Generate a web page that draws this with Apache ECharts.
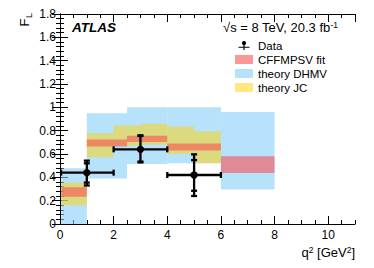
<!DOCTYPE html>
<html>
<head>
<meta charset="utf-8">
<script src="https://cdn.jsdelivr.net/npm/echarts@6/dist/echarts.min.js"></script>
<style>html,body{margin:0;padding:0;background:#fff}#c{width:374px;height:268px}</style>
</head>
<body>
<div id="c"></div>
<script>
// ---- Data ----
// ATLAS data points
const dataX     = [1, 3, 5];
const dataY     = [0.44, 0.64, 0.42];
const dataXLow  = [0.04, 2.0, 4.0];
const dataXHigh = [2.0, 4.0, 6.0];
const statLow   = [0.355, 0.535, 0.285];
const statHigh  = [0.52, 0.755, 0.548];
const totLow    = [0.33, 0.528, 0.24];
const totHigh   = [0.543, 0.76, 0.597];

// theory DHMV bins
const dhmvX0 = [0.05, 1, 2.5, 4, 6];
const dhmvX1 = [1, 2.5, 4, 6, 8];
const dhmvLo = [0.0, 0.39, 0.515, 0.52, 0.295];
const dhmvHi = [0.477, 0.95, 1.0, 1.0, 0.96];

// theory JC bins
const jcX0 = [0.05, 1, 2, 3, 4, 5];
const jcX1 = [1, 2, 3, 4, 5, 6];
const jcLo = [0.16, 0.572, 0.67, 0.68, 0.60, 0.52];
const jcHi = [0.354, 0.777, 0.845, 0.86, 0.835, 0.795];

// CFFMPSV fit bins
const cffX0 = [0.05, 1, 2.5, 4, 6];
const cffX1 = [1, 2.5, 4, 6, 8];
const cffLo = [0.234, 0.665, 0.703, 0.63, 0.437];
const cffHi = [0.314, 0.725, 0.757, 0.69, 0.58];

const FONT = '"Liberation Sans", Arial, Helvetica, sans-serif';
const C_DHMV = 'rgba(135,206,250,0.6)';
const C_JC   = 'rgba(255,210,0,0.5)';
const C_CFF  = 'rgba(250,82,84,0.6)';

function boxSeries(name, x0, x1, lo, hi, color, z) {
  return {
    type: 'custom', name: name, z: z, silent: true,
    itemStyle: { color: color },
    data: x0.map((v, i) => [v, x1[i], lo[i], hi[i]]),
    renderItem: function (params, api) {
      const a = api.coord([api.value(0), api.value(3)]);
      const b = api.coord([api.value(1), api.value(2)]);
      return { type: 'rect', shape: { x: a[0], y: a[1], width: b[0] - a[0], height: b[1] - a[1] },
               style: { fill: color } };
    }
  };
}

const dataSeries = {
  type: 'custom', name: 'Data', z: 10, silent: true,
  itemStyle: { color: '#000' },
  data: dataX.map((v, i) => [v, dataY[i], dataXLow[i], dataXHigh[i], statLow[i], statHigh[i], totLow[i], totHigh[i]]),
  renderItem: function (params, api) {
    const p  = api.coord([api.value(0), api.value(1)]);
    const xl = api.coord([api.value(2), api.value(1)])[0];
    const xh = api.coord([api.value(3), api.value(1)])[0];
    const sl = api.coord([api.value(0), api.value(4)])[1];
    const sh = api.coord([api.value(0), api.value(5)])[1];
    const tl = api.coord([api.value(0), api.value(6)])[1];
    const th = api.coord([api.value(0), api.value(7)])[1];
    const st = { stroke: '#000', lineWidth: 2.3, fill: null };
    const cw = 3;
    const line = (x1, y1, x2, y2) => ({ type: 'line', shape: { x1, y1, x2, y2 }, style: st });
    return { type: 'group', children: [
      line(xl, p[1], xh, p[1]),
      line(xl, p[1] - cw, xl, p[1] + cw),
      line(xh, p[1] - cw, xh, p[1] + cw),
      line(p[0], tl, p[0], th),
      line(p[0] - cw, tl, p[0] + cw, tl),
      line(p[0] - cw, th, p[0] + cw, th),
      line(p[0] - cw, sl, p[0] + cw, sl),
      line(p[0] - cw, sh, p[0] + cw, sh),
      { type: 'circle', shape: { cx: p[0], cy: p[1], r: 3.7 }, style: { fill: '#000' } }
    ]};
  }
};

const axLine = { show: true, lineStyle: { color: '#000', width: 1 } };
const xBase = { type: 'value', min: 0, max: 11, splitLine: { show: false } };
const yBase = { type: 'value', min: 0, max: 1.8, interval: 0.2, splitLine: { show: false } };

const chart = echarts.init(document.getElementById('c'), null, { renderer: 'svg' });
chart.setOption({
  animation: false,
  textStyle: { fontFamily: FONT },
  grid: { left: 60, right: 19, top: 14, bottom: 44 },
  xAxis: [
    Object.assign({}, xBase, { position: 'bottom', interval: 2, axisLine: axLine,
      axisTick: { inside: true, length: 8, lineStyle: { color: '#000' } },
      axisLabel: { showMaxLabel: false, fontSize: 12, color: '#000', margin: 5, fontFamily: FONT } }),
    Object.assign({}, xBase, { position: 'bottom', interval: 0.5, axisLine: { show: false },
      axisTick: { inside: true, length: 4, lineStyle: { color: '#000' } }, axisLabel: { show: false } }),
    Object.assign({}, xBase, { position: 'top', interval: 2, axisLine: axLine,
      axisTick: { inside: true, length: 8, lineStyle: { color: '#000' } }, axisLabel: { show: false } }),
    Object.assign({}, xBase, { position: 'top', interval: 0.5, axisLine: { show: false },
      axisTick: { inside: true, length: 4, lineStyle: { color: '#000' } }, axisLabel: { show: false } })
  ],
  yAxis: [
    Object.assign({}, yBase, { position: 'left', axisLine: axLine,
      axisTick: { inside: true, length: 8, lineStyle: { color: '#000' } },
      minorTick: { show: true, splitNumber: 5, length: 4, lineStyle: { color: '#000' } },
      axisLabel: { fontSize: 12, color: '#000', margin: 4, fontFamily: FONT } }),
    Object.assign({}, yBase, { position: 'right', axisLine: axLine,
      axisTick: { inside: true, length: 8, lineStyle: { color: '#000' } },
      minorTick: { show: true, splitNumber: 5, length: 4, lineStyle: { color: '#000' } },
      axisLabel: { show: false } })
  ],
  legend: {
    orient: 'vertical', left: 235, top: 39.5, padding: 0,
    itemWidth: 18, itemHeight: 9, itemGap: 2,
    textStyle: { fontSize: 11.5, color: '#000', fontFamily: FONT },
    data: [
      { name: 'Data', icon: 'path://M0,3.9h20v2.2h-20z M8.9,0h2.2v10h-2.2z M10,1.2a3.8,3.8 0 1,1 0.01,0z' },
      { name: 'CFFMPSV fit', icon: 'rect' },
      { name: 'theory DHMV', icon: 'rect' },
      { name: 'theory JC', icon: 'rect' }
    ]
  },
  graphic: [
    { type: 'text', x: 72, y: 27, silent: true,
      style: { text: 'ATLAS', font: 'italic bold 13.5px ' + FONT, fill: '#000', verticalAlign: 'middle' } },
    { type: 'text', x: 223, y: 27, silent: true,
      style: { text: '{a|√s = 8 TeV, 20.3 fb}{b|-1}', verticalAlign: 'middle', fill: '#000',
        rich: { a: { fontSize: 13, fontFamily: FONT, fill: '#000' },
                b: { fontSize: 8.5, fontFamily: FONT, verticalAlign: 'top', fill: '#000' } } } },
    { type: 'text', x: 355, y: 252, silent: true,
      style: { text: '{a|q}{s|2}{a| [GeV}{s|2}{a|]}', align: 'right', verticalAlign: 'middle', fill: '#000',
        rich: { a: { fontSize: 13, fontFamily: FONT, fill: '#000' },
                s: { fontSize: 8.5, fontFamily: FONT, verticalAlign: 'top', fill: '#000' } } } },
    { type: 'group', x: 24.5, y: 13, rotation: Math.PI / 2, silent: true,
      children: [
        { type: 'text', x: -5.5, y: 0,
          style: { text: 'F', font: '13px ' + FONT, fill: '#000', align: 'right', verticalAlign: 'middle' } },
        { type: 'text', x: 0, y: 4,
          style: { text: 'L', font: '9px ' + FONT, fill: '#000', align: 'right', verticalAlign: 'middle' } }
      ] }
  ],
  series: [
    dataSeries,
    boxSeries('CFFMPSV fit', cffX0, cffX1, cffLo, cffHi, C_CFF, 3),
    boxSeries('theory DHMV', dhmvX0, dhmvX1, dhmvLo, dhmvHi, C_DHMV, 1),
    boxSeries('theory JC', jcX0, jcX1, jcLo, jcHi, C_JC, 2)
  ]
});
</script>
</body>
</html>
